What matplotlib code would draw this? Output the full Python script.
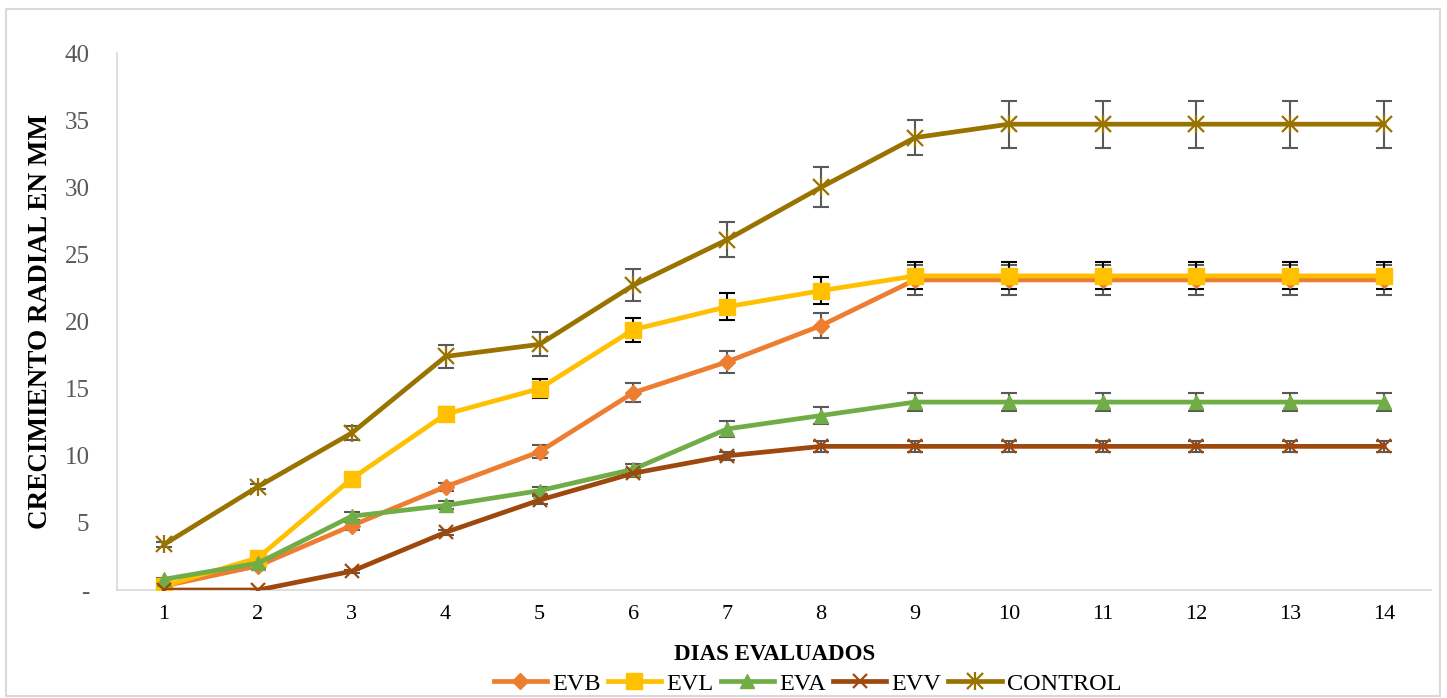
import matplotlib.pyplot as plt
from matplotlib.patches import Rectangle
from matplotlib.lines import Line2D

dias = list(range(1, 15))

evb = [0.3, 1.8, 4.8, 7.7, 10.3, 14.7, 17.0, 19.7, 23.1, 23.1, 23.1, 23.1, 23.1, 23.1]
evb_err = [0.1, 0.2, 0.3, 0.3, 0.5, 0.7, 0.8, 0.9, 1.1, 1.1, 1.1, 1.1, 1.1, 1.1]

evl = [0.3, 2.4, 8.3, 13.1, 15.0, 19.4, 21.1, 22.3, 23.4, 23.4, 23.4, 23.4, 23.4, 23.4]
evl_err = [0.1, 0.2, 0.3, 0.5, 0.7, 0.9, 1.0, 1.0, 1.0, 1.0, 1.0, 1.0, 1.0, 1.0]

eva = [0.8, 2.0, 5.5, 6.3, 7.4, 9.0, 12.0, 13.0, 14.0, 14.0, 14.0, 14.0, 14.0, 14.0]
eva_err = [0.1, 0.2, 0.3, 0.3, 0.3, 0.4, 0.6, 0.6, 0.7, 0.7, 0.7, 0.7, 0.7, 0.7]

evv = [0.0, 0.0, 1.4, 4.3, 6.7, 8.7, 10.0, 10.7, 10.7, 10.7, 10.7, 10.7, 10.7, 10.7]
evv_err = [0.0, 0.0, 0.1, 0.2, 0.3, 0.3, 0.3, 0.4, 0.4, 0.4, 0.4, 0.4, 0.4, 0.4]

control = [3.4, 7.7, 11.7, 17.4, 18.3, 22.7, 26.1, 30.0, 33.7, 34.7, 34.7, 34.7, 34.7, 34.7]
control_err = [0.2, 0.2, 0.5, 0.85, 0.9, 1.2, 1.3, 1.5, 1.3, 1.75, 1.75, 1.75, 1.75, 1.75]

series = [
    ('EVB', evb, evb_err, '#ED7D31', 'D', 8.5, '#595959'),
    ('EVL', evl, evl_err, '#FFC000', 's', 11, '#000000'),
    ('EVA', eva, eva_err, '#70AD47', '^', 10.5, '#595959'),
    ('EVV', evv, evv_err, '#9E480E', 'x', 10, '#595959'),
    ('CONTROL', control, control_err, '#997300', 'x', 11, '#595959'),
]

plt.rcParams['font.family'] = ['Liberation Serif', 'DejaVu Serif']

fig = plt.figure(figsize=(14.47, 6.98), dpi=100)
ax = fig.add_axes([0.081, 0.1547, 0.908, 0.7693])

for nombre, vals, err, color, marker, ms, ecol in series:
    ax.errorbar(dias, vals, yerr=err, fmt='none', ecolor=ecol, elinewidth=1.5,
                capsize=6, capthick=1.5, zorder=2)

handles = []
for nombre, vals, err, color, marker, ms, ecol in series:
    mew = 1.6 if marker == 'x' else 1.0
    ax.plot(dias, vals, color=color, lw=3.4, marker=marker, ms=ms, mew=mew, zorder=3)
    h = Line2D([], [], color=color, lw=3.4, marker=marker, ms=ms, mew=mew)
    if nombre == 'CONTROL':
        ax.plot(dias, vals, lw=0, color=color, marker='|', ms=13, mew=1.6, zorder=3)
        h2 = Line2D([], [], lw=0, color=color, marker='|', ms=13, mew=1.6)
        h = (h, h2)
    handles.append(h)

ax.set_xlim(0.5, 14.5)
ax.set_ylim(0, 40)
ax.set_xticks(dias)
ax.set_yticks(range(0, 41, 5))
ax.set_yticklabels(['-'] + [str(v) for v in range(5, 41, 5)])
ax.tick_params(axis='y', length=0, labelsize=18, labelcolor='#595959', pad=20)
ax.tick_params(axis='x', length=0, labelsize=16, labelcolor='black', pad=11)

for s in ['top', 'right']:
    ax.spines[s].set_visible(False)
ax.spines['left'].set_color('#D9D9D9')
ax.spines['bottom'].set_color('#D9D9D9')
ax.spines['left'].set_linewidth(1.2)
ax.spines['bottom'].set_linewidth(1.2)

ax.set_xlabel('DIAS EVALUADOS', fontsize=16.5, fontweight='bold', labelpad=14)
ax.set_ylabel('CRECIMIENTO RADIAL EN MM', fontsize=19.5, fontweight='bold', labelpad=8)

labels = [s[0] for s in series]
fig.legend(handles, labels, loc='lower center', bbox_to_anchor=(0.558, -0.027),
           ncol=5, frameon=False, fontsize=17.5, handlelength=2.2,
           handletextpad=0.2, columnspacing=0.3)

fig.patches.append(Rectangle((0.004, 0.003), 0.991, 0.984, transform=fig.transFigure,
                             fill=False, edgecolor='#D9D9D9', lw=1.5))

fig.savefig('out.png', dpi=100)
